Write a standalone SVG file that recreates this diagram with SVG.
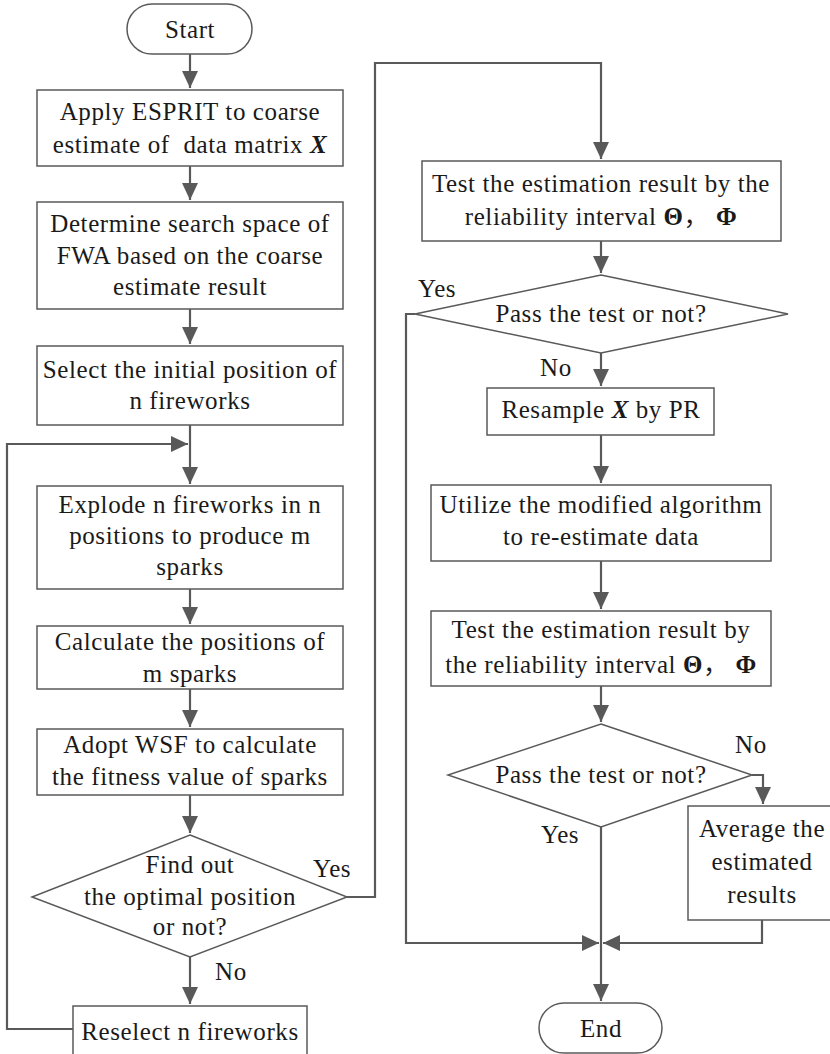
<svg xmlns="http://www.w3.org/2000/svg" width="830" height="1054" viewBox="0 0 830 1054">
<style>
.t{font-family:"Liberation Serif","Noto Sans CJK SC",serif;font-size:25px;fill:#1a1a1a;letter-spacing:0.6px;text-anchor:middle}
.l{font-family:"Liberation Serif","Noto Sans CJK SC",serif;font-size:25px;fill:#1a1a1a;letter-spacing:0.6px}
.b{fill:#fff;stroke:#595959;stroke-width:1.5}
.c{fill:none;stroke:#595959;stroke-width:2.2}
.bi{font-weight:bold;font-style:italic}
.bo{font-weight:bold}
</style>
<defs>
<marker id="ah" markerUnits="userSpaceOnUse" markerWidth="18" markerHeight="16" refX="17" refY="8" orient="auto">
<path d="M0,0 L17,8 L0,16 z" fill="#595959"/>
</marker>
</defs>
<rect width="830" height="1054" fill="#fff"/>
<g id="connectors">
<path class="c" d="M190,54 V88" marker-end="url(#ah)"/>
<path class="c" d="M190,166 V200" marker-end="url(#ah)"/>
<path class="c" d="M190,309 V344" marker-end="url(#ah)"/>
<path class="c" d="M190,425 V484" marker-end="url(#ah)"/>
<path class="c" d="M73,1029 H7 V444 H188" marker-end="url(#ah)"/>
<path class="c" d="M190,589 V624" marker-end="url(#ah)"/>
<path class="c" d="M190,689 V727" marker-end="url(#ah)"/>
<path class="c" d="M190,795 V833" marker-end="url(#ah)"/>
<path class="c" d="M190,957 V1004" marker-end="url(#ah)"/>
<path class="c" d="M347,897 H375 V63 H601 V159" marker-end="url(#ah)"/>
<path class="c" d="M601,241 V273" marker-end="url(#ah)"/>
<path class="c" d="M601,353 V386" marker-end="url(#ah)"/>
<path class="c" d="M601,435 V483" marker-end="url(#ah)"/>
<path class="c" d="M601,561 V609" marker-end="url(#ah)"/>
<path class="c" d="M601,686 V722" marker-end="url(#ah)"/>
<path class="c" d="M752,775 H763 V804" marker-end="url(#ah)"/>
<path class="c" d="M415,314 H406 V943 H599" marker-end="url(#ah)"/>
<path class="c" d="M762,920 V943 H603" marker-end="url(#ah)"/>
<path class="c" d="M601,827 V1001" marker-end="url(#ah)"/>
</g>
<g id="start">
<rect class="b" x="127" y="4" width="125" height="50" rx="25"/>
<text class="t" x="190" y="38">Start</text>
</g>
<g id="box1">
<rect class="b" x="37" y="90" width="306" height="76"/>
<text class="t" x="190" y="120">Apply ESPRIT to coarse</text>
<text class="t" x="190" y="153" xml:space="preserve">estimate of  data matrix <tspan class="bi">X</tspan></text>
</g>
<g id="box2">
<rect class="b" x="37" y="202" width="306" height="107"/>
<text class="t" x="190" y="232">Determine search space of</text>
<text class="t" x="190" y="264">FWA based on the coarse</text>
<text class="t" x="190" y="295">estimate result</text>
</g>
<g id="box3">
<rect class="b" x="37" y="346" width="306" height="79"/>
<text class="t" x="190" y="378">Select the initial position of</text>
<text class="t" x="190" y="409">n fireworks</text>
</g>
<g id="box4">
<rect class="b" x="37" y="486" width="306" height="103"/>
<text class="t" x="190" y="513">Explode n fireworks in n</text>
<text class="t" x="190" y="544">positions to produce m</text>
<text class="t" x="190" y="575">sparks</text>
</g>
<g id="box5">
<rect class="b" x="37" y="626" width="306" height="63"/>
<text class="t" x="190" y="650">Calculate the positions of</text>
<text class="t" x="190" y="682">m sparks</text>
</g>
<g id="box6">
<rect class="b" x="37" y="729" width="306" height="66"/>
<text class="t" x="190" y="753">Adopt WSF to calculate</text>
<text class="t" x="190" y="785">the fitness value of sparks</text>
</g>
<g id="decision1">
<polygon class="b" points="190,835 347,897 190,957 32,897"/>
<text class="t" x="190" y="873">Find out</text>
<text class="t" x="190" y="905">the optimal position</text>
<text class="t" x="190" y="935">or not?</text>
<text class="l" x="313" y="877">Yes</text>
<text class="l" x="215" y="980">No</text>
</g>
<g id="box-reselect">
<rect class="b" x="73" y="1006" width="234" height="60"/>
<text class="t" x="190" y="1040">Reselect n fireworks</text>
</g>
<g id="box7">
<rect class="b" x="422" y="161" width="359" height="80"/>
<text class="t" x="601" y="192">Test the estimation result by the</text>
<text class="t" x="601" y="225">reliability interval <tspan class="bo">Θ</tspan>， <tspan class="bo">Φ</tspan></text>
</g>
<g id="decision2">
<polygon class="b" points="601,275 788,314 601,353 415,314"/>
<text class="t" x="601" y="322">Pass the test or not?</text>
<text class="l" x="418" y="297">Yes</text>
<text class="l" x="540" y="376">No</text>
</g>
<g id="box8">
<rect class="b" x="487" y="388" width="227" height="47"/>
<text class="t" x="601" y="418">Resample <tspan class="bi">X</tspan> by PR</text>
</g>
<g id="box9">
<rect class="b" x="431" y="485" width="340" height="76"/>
<text class="t" x="601" y="513">Utilize the modified algorithm</text>
<text class="t" x="601" y="545">to re-estimate data</text>
</g>
<g id="box10">
<rect class="b" x="431" y="611" width="340" height="75"/>
<text class="t" x="601" y="638">Test the estimation result by</text>
<text class="t" x="601" y="673">the reliability interval <tspan class="bo">Θ</tspan>， <tspan class="bo">Φ</tspan></text>
</g>
<g id="decision3">
<polygon class="b" points="601,724 752,775 601,827 448,775"/>
<text class="t" x="601" y="783">Pass the test or not?</text>
<text class="l" x="735" y="753">No</text>
<text class="l" x="541" y="843">Yes</text>
</g>
<g id="box11">
<rect class="b" x="688" y="806" width="148" height="114"/>
<text class="t" x="762" y="837">Average the</text>
<text class="t" x="762" y="870">estimated</text>
<text class="t" x="762" y="903">results</text>
</g>
<g id="end">
<rect class="b" x="539" y="1003" width="123" height="50" rx="25"/>
<text class="t" x="601" y="1037">End</text>
</g>
</svg>
